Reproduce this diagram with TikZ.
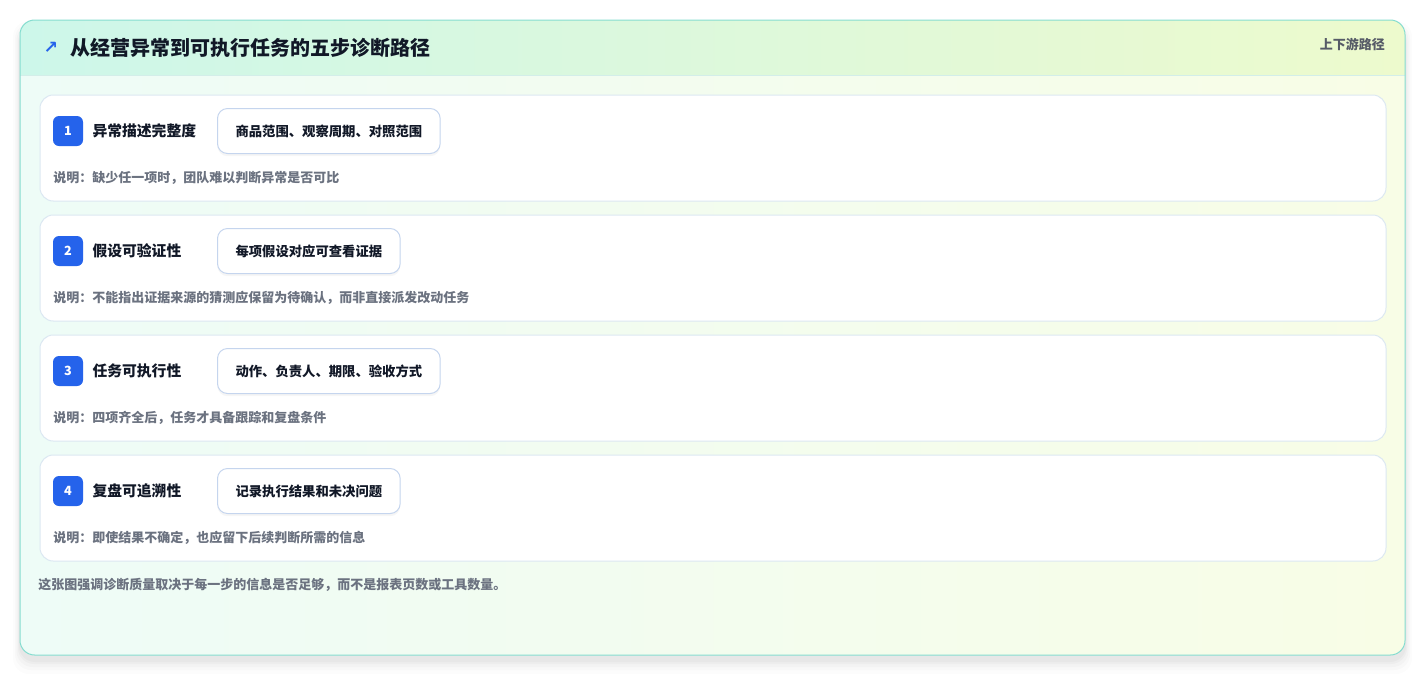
\documentclass[tikz,border=0pt]{standalone}
\usepackage{fontspec}
\setmainfont{Noto Sans CJK SC}
\newfontfamily\symfont{DejaVu Sans}
\usetikzlibrary{positioning,shadows}
\definecolor{framecol}{HTML}{86DDD0}
\definecolor{cardline}{HTML}{DCE8F2}
\definecolor{chipline}{HTML}{C5D5EE}
\definecolor{badgeblue}{HTML}{2563EB}
\definecolor{inkcol}{HTML}{111827}
\definecolor{notecol}{HTML}{6B7280}
\definecolor{headleft}{HTML}{CDF7EA}
\definecolor{headright}{HTML}{EDFACD}
\definecolor{bodyleft}{HTML}{EEFCF7}
\definecolor{bodyright}{HTML}{F8FDE6}
\definecolor{sepcol}{HTML}{D3EEE9}

\begin{document}
\begin{tikzpicture}[x=0.75pt,y=-0.75pt,
    card/.style={draw=cardline,fill=white,rounded corners=10pt,line width=0.75pt,minimum width=1009.5pt,minimum height=79.5pt},
    badge/.style={fill=badgeblue,rounded corners=4.5pt,minimum size=22.5pt,inner sep=0pt,text=white,font=\bfseries\fontsize{9.5pt}{10pt}\selectfont},
    steptitle/.style={inner sep=0pt,text=inkcol,font=\bfseries\fontsize{11.1pt}{12pt}\selectfont},
    chip/.style={draw=chipline,fill=white,rounded corners=7.5pt,line width=0.75pt,minimum height=33.75pt,inner xsep=13.5pt,text=inkcol,
      font=\bfseries\fontsize{10pt}{11pt}\selectfont,drop shadow={opacity=0.07,shadow xshift=0pt,shadow yshift=-2pt}},
    note/.style={inner sep=0pt,text=notecol,font=\bfseries\fontsize{9.75pt}{11pt}\selectfont}]

    % page and outer shadow
    \fill[white] (0,0) rectangle (1426,676);
    \foreach \s/\o in {14/0.012,10/0.015,7/0.018,4/0.022,2/0.025}
        \fill[black,opacity=\o,rounded corners=12pt] (20-\s/2,28-\s/2) rectangle (1405+\s/2,660+\s);

    % outer card
    \shade[left color=bodyleft,right color=bodyright,rounded corners=11pt] (20,20) rectangle (1405,655);
    \begin{scope}
        \clip[rounded corners=11pt] (20,20) rectangle (1405,655);
        \shade[left color=headleft,right color=headright] (20,20) rectangle (1405,75);
    \end{scope}
    \draw[sepcol,line width=0.75pt] (20,75) -- (1405,75);
    \draw[framecol,line width=0.75pt,rounded corners=11pt] (20,20) rectangle (1405,655);

    % header
    \node[text=badgeblue,font=\symfont\bfseries\fontsize{13pt}{14pt}\selectfont] (arrow) at (51,48) {↗};
    \node[anchor=west,inner sep=0pt,text=inkcol,font=\bfseries\fontsize{15pt}{16pt}\selectfont] (title) at (70,48) {从经营异常到可执行任务的五步诊断路径};
    \node[anchor=east,inner sep=0pt,text=notecol!80!black,font=\bfseries\fontsize{9.75pt}{11pt}\selectfont] (tag) at (1385,44) {上下游路径};

    % step 1
    \node[card] (s1) at (713,148) {};
    \node[badge] (b1) at (68,131) {1};
    \node[steptitle,right=6.75pt of b1] (t1) {异常描述完整度};
    \node[chip,anchor=west] (c1) at (217,131) {商品范围、观察周期、对照范围};
    \node[note,anchor=west] (n1) at (53,178) {说明：缺少任一项时，团队难以判断异常是否可比};

    % step 2
    \node[card] (s2) at (713,268) {};
    \node[badge] (b2) at (68,251) {2};
    \node[steptitle,right=6.75pt of b2] (t2) {假设可验证性};
    \node[chip,anchor=west] (c2) at (217,251) {每项假设对应可查看证据};
    \node[note,anchor=west] (n2) at (53,298) {说明：不能指出证据来源的猜测应保留为待确认，而非直接派发改动任务};

    % step 3
    \node[card] (s3) at (713,388) {};
    \node[badge] (b3) at (68,371) {3};
    \node[steptitle,right=6.75pt of b3] (t3) {任务可执行性};
    \node[chip,anchor=west] (c3) at (217,371) {动作、负责人、期限、验收方式};
    \node[note,anchor=west] (n3) at (53,418) {说明：四项齐全后，任务才具备跟踪和复盘条件};

    % step 4
    \node[card] (s4) at (713,508) {};
    \node[badge] (b4) at (68,491) {4};
    \node[steptitle,right=6.75pt of b4] (t4) {复盘可追溯性};
    \node[chip,anchor=west] (c4) at (217,491) {记录执行结果和未决问题};
    \node[note,anchor=west] (n4) at (53,538) {说明：即使结果不确定，也应留下后续判断所需的信息};

    % footer
    \node[note,anchor=west] (foot) at (38,585) {这张图强调诊断质量取决于每一步的信息是否足够，而不是报表页数或工具数量。};
\end{tikzpicture}
\end{document}
